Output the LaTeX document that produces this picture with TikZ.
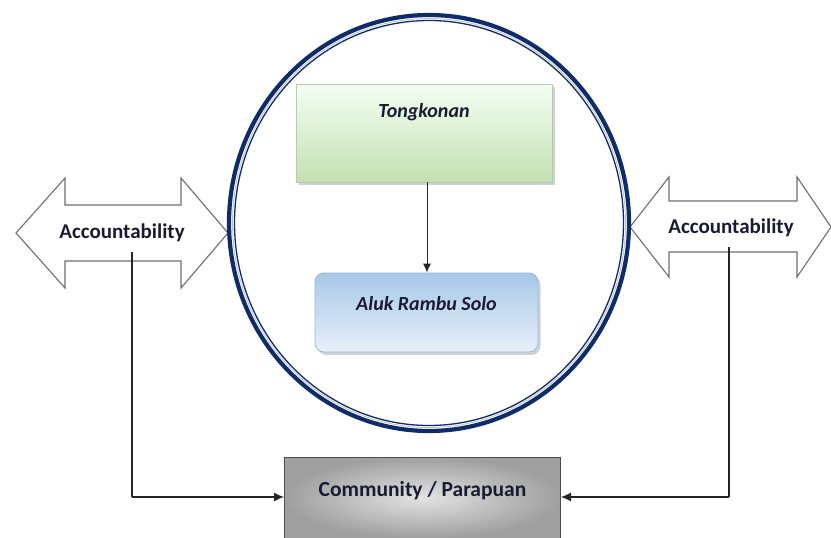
\documentclass[tikz,border=0pt]{standalone}
\usepackage{fontspec}
\setmainfont{Carlito}
\usetikzlibrary{arrows.meta,shadows}
\definecolor{navy}{HTML}{0E2C6A}
\definecolor{txt}{HTML}{1A1A33}
\definecolor{arrgray}{HTML}{6E6E6E}
\begin{document}
\begin{tikzpicture}[x=1pt,y=-1pt,
  dblarrow/.style={draw=arrgray, line width=1.1pt, fill=white, line join=miter},
  acctext/.style={font=\fontsize{21}{24}\selectfont\bfseries, text=txt, inner sep=0pt},
  conn/.style={draw=black!85, line width=1.1pt, -{Latex[length=10pt,width=9pt]}},
  plainline/.style={draw=black!85, line width=1.1pt}
]
\useasboundingbox (0,0) rectangle (831,538);
% double arrows
\draw[dblarrow] (16,233) -- (65,178) -- (65,205) -- (181,205) -- (181,178) -- (228,233)
  -- (181,288) -- (181,261) -- (65,261) -- (65,288) -- cycle;
\draw[dblarrow] (630,227) -- (669,177) -- (669,201) -- (797,201) -- (797,177) -- (831,227)
  -- (797,277) -- (797,252) -- (669,252) -- (669,277) -- cycle;
\node[acctext] (accL) at (122,233) {Accountability};
\node[acctext] (accR) at (731,228) {Accountability};
% circle
\draw[navy, line width=4.2pt] (429,223) ellipse [x radius=200, y radius=208];
\draw[gray!50, line width=0.8pt] (429,223) ellipse [x radius=196.5, y radius=204.5];
\draw[navy, line width=1.3pt] (429,223) ellipse [x radius=194.5, y radius=202.5];
% Tongkonan
\node[draw=green!30!gray!50, line width=0.8pt, top color=white!92!green!60, bottom color={rgb,255:red,196;green,224;blue,178},
  minimum width=256pt, inner xsep=0pt, inner ysep=0pt, text height=33pt, text depth=65pt,
  drop shadow={shadow xshift=3pt, shadow yshift=-3pt, fill=gray!60, opacity=0.6},
  font=\fontsize{20}{24}\selectfont\bfseries\itshape, text=txt] (tong) at (424,133) {Tongkonan};
% Aluk Rambu Solo
\node[draw={rgb,255:red,150;green,185;blue,220}, line width=0.8pt, rounded corners=9pt,
  top color={rgb,255:red,168;green,200;blue,232}, bottom color={rgb,255:red,232;green,240;blue,250},
  minimum width=223pt, inner xsep=0pt, inner ysep=0pt, text height=37pt, text depth=42pt,
  drop shadow={shadow xshift=2.5pt, shadow yshift=-3pt, fill=gray!60, opacity=0.6},
  font=\fontsize{20}{24}\selectfont\bfseries\itshape, text=txt] (aluk) at (426.5,312.5) {Aluk Rambu Solo};
\draw[conn, line width=1pt, -{Latex[length=9pt,width=8pt]}] (tong.south) ++(3,0) coordinate (tb) -- (tb |- aluk.north) ;
% Community
\node[draw=black!70, line width=1pt, inner color=gray!22, outer color=gray!75,
  minimum width=276pt, inner xsep=0pt, inner ysep=0pt, text height=39pt, text depth=42pt,
  font=\fontsize{21.5}{24}\selectfont\bfseries, text=txt] (comm) at (422.5,497.5) {Community / Parapuan};
% connectors
\coordinate (lstart) at (132,252);
\coordinate (rstart) at (729,247);
\coordinate (lcorner) at (132,497);
\coordinate (rcorner) at (729,497);
\draw[plainline] (lstart) -- (lcorner);
\draw[conn] (lcorner) -- (lcorner -| comm.west);
\draw[plainline] (rstart) -- (rcorner);
\draw[conn] (rcorner) -- (rcorner -| comm.east);
\end{tikzpicture}
\end{document}
